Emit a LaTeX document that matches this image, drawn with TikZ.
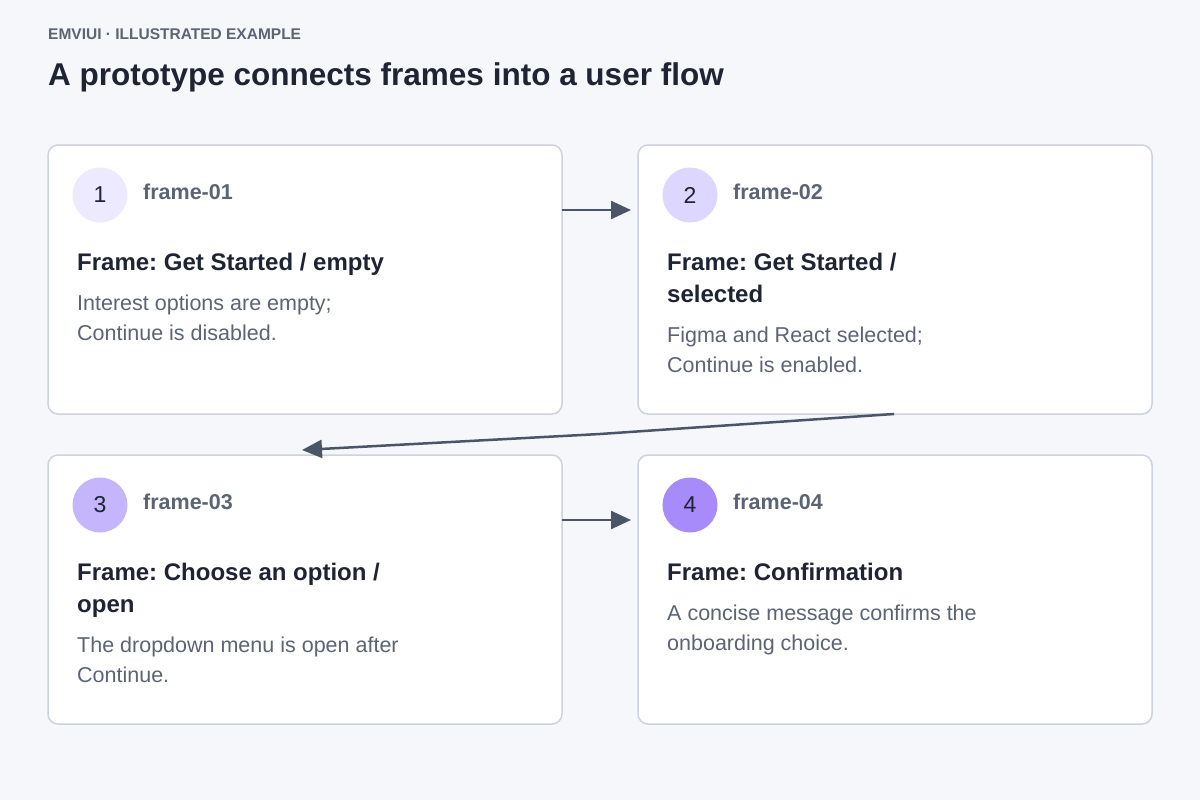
\documentclass[tikz,border=0pt]{standalone}
\usepackage{fontspec}
\setmainfont{Liberation Sans}
\usetikzlibrary{arrows.meta}
\definecolor{bg}{HTML}{F5F7FA}
\definecolor{bd}{HTML}{CDD3DC}
\definecolor{dark}{HTML}{1E2433}
\definecolor{mid}{HTML}{5B6475}
\definecolor{arr}{HTML}{4B5568}
\definecolor{c1}{HTML}{EDE9FE}
\definecolor{c2}{HTML}{DDD6FE}
\definecolor{c3}{HTML}{C4B5FD}
\definecolor{c4}{HTML}{A78BFA}
\begin{document}
\frenchspacing
\begin{tikzpicture}[x=1pt,y=-1pt,
  box/.style={draw=bd,line width=1.5pt,fill=white,rounded corners=10pt},
  num/.style={circle,minimum size=55pt,inner sep=0pt,font=\fontsize{23}{26}\selectfont,text=dark},
  fid/.style={anchor=west,inner sep=0pt,font=\fontsize{21.5}{24}\selectfont\bfseries,text=mid},
  ttl/.style={anchor=north west,align=left,font=\fontsize{24}{32}\selectfont\bfseries,text=dark,inner sep=0pt},
  bod/.style={anchor=north west,align=left,font=\fontsize{21.5}{30}\selectfont,text=mid,inner sep=0pt},
  link/.style={draw=arr,line width=2.5pt,-{Triangle[length=20pt,width=18pt]}}]
\fill[bg] (0,0) rectangle (1200,800);
\useasboundingbox (0,0) rectangle (1200,800);
\node[anchor=west,inner sep=0pt,font=\fontsize{15.5}{16}\selectfont\bfseries,text=mid] (h) at (48,34) {EMVIUI · ILLUSTRATED EXAMPLE};
\node[anchor=west,inner sep=0pt,font=\fontsize{31.5}{34}\selectfont\bfseries,text=dark] (t) at (48,77) {A prototype connects frames into a user flow};
\foreach \n/\x/\y/\c/\f in {1/48/145/c1/01,2/638/145/c2/02,3/48/455/c3/03,4/638/455/c4/04}{
  \draw[box] (\x,\y) rectangle ++(514,269);
  \node[num,fill=\c] (n\n) at (\x+52,\y+50) {\n};
  \node[fid] (f\n) at (\x+95,\y+47) {frame-\f};
}
\node[ttl] (t1) at (77,253) {Frame: Get Started / empty};
\node[bod] (d1) at (77,295) {Interest options are empty;\\Continue is disabled.};
\node[ttl] (t2) at (667,253) {Frame: Get Started /\\selected};
\node[bod] (d2) at (667,327) {Figma and React selected;\\Continue is enabled.};
\node[ttl] (t3) at (77,563) {Frame: Choose an option /\\open};
\node[bod] (d3) at (77,637) {The dropdown menu is open after\\Continue.};
\node[ttl] (t4) at (667,563) {Frame: Confirmation};
\node[bod] (d4) at (667,605) {A concise message confirms the\\onboarding choice.};
\coordinate (a1) at (562,210); \coordinate (a2) at (631,210);
\coordinate (a3) at (894,414); \coordinate (am) at (600,434); \coordinate (a4) at (302,450);
\coordinate (a5) at (562,520); \coordinate (a6) at (631,520);
\draw[link] (a1) -- (a2);
\draw[link] (a3) -- (am) -- (a4);
\draw[link] (a5) -- (a6);
\end{tikzpicture}
\end{document}
